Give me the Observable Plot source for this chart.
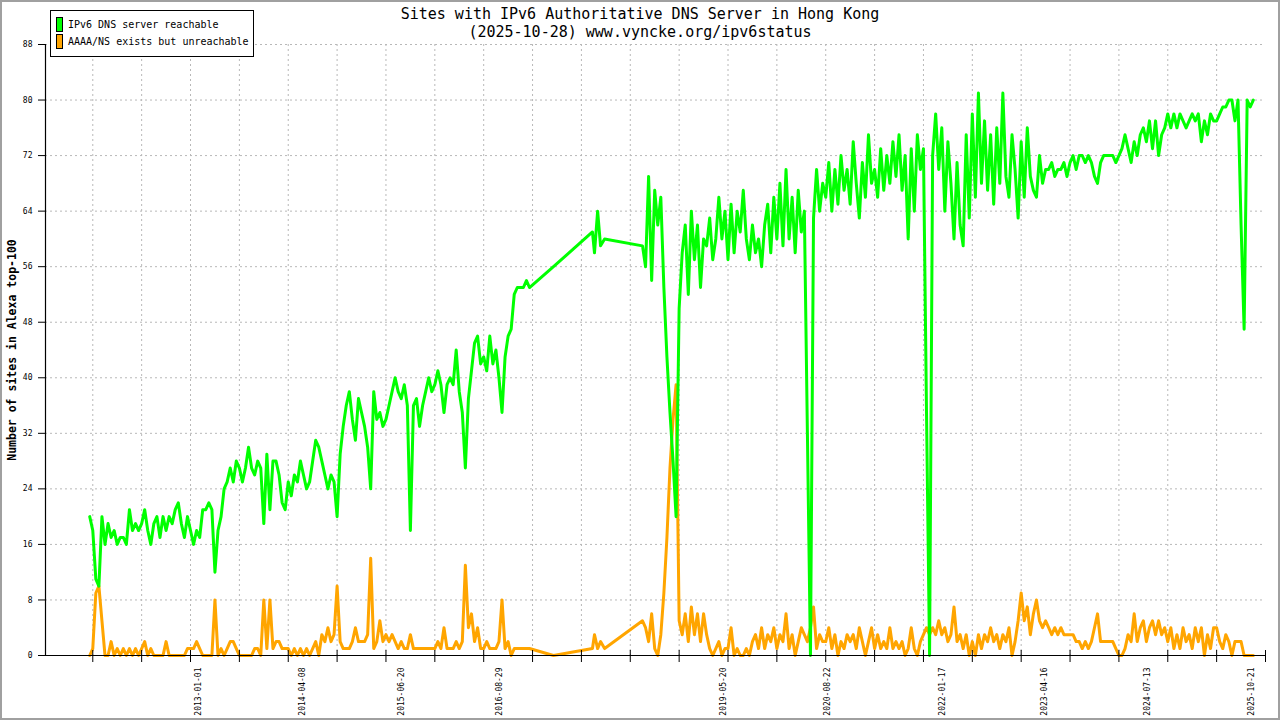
<!DOCTYPE html>
<html>
<head>
<meta charset="utf-8">
<script src="https://cdn.jsdelivr.net/npm/d3@7"></script>
<script src="https://cdn.jsdelivr.net/npm/@observablehq/plot@0.6"></script>
<style>
  body { margin: 0; background: #fff; }
  #wrap { position: relative; width: 1280px; height: 720px; overflow: hidden; font-family: "DejaVu Sans Mono", monospace; color: #000; }
  #frame { position: absolute; left: 0; top: 0; width: 1280px; height: 720px; border: 2px solid #a0a0a0; box-sizing: border-box; pointer-events: none; }
  #title { position: absolute; left: 0; top: 5px; width: 1280px; text-align: center; font-size: 15px; line-height: 18px; }
  #legend { position: absolute; left: 50px; top: 10px; width: 202px; height: 45px; border: 1px solid #000; background: #fff; font-size: 10px; }
  .item { position: absolute; left: 5px; height: 15px; line-height: 15px; white-space: nowrap; }
  .sw { display: inline-block; width: 5px; height: 13px; border: 1px solid #000; vertical-align: top; margin-right: 5px; }
  #ylabel { position: absolute; left: 12px; top: 350px; transform: translate(-50%, -50%) rotate(-90deg); font-weight: bold; font-size: 11.5px; white-space: nowrap; }
</style>
</head>
<body>
<div id="wrap">
  <div id="chart"></div>
  <div id="title"></div>
  <div id="legend"></div>
  <div id="ylabel"></div>
  <div id="frame"></div>
</div>
<script>
const titleLines = ['Sites with IPv6 Authoritative DNS Server in Hong Kong', '(2025-10-28) www.vyncke.org/ipv6status']
const yLabel = 'Number of sites in Alexa top-100'
const seriesNames = ['IPv6 DNS server reachable', 'AAAA/NS exists but unreachable']
const seriesColors = ['#00ff00', '#ffa500']

const yTicks = [0, 8, 16, 24, 32, 40, 48, 56, 64, 72, 80, 88]
const xDomain = ['2011-02-20', '2025-12-21']
const tickStart = '2011-09-18'
const tickStepDays = 217
const tickCount = 25
const labelDates = ['2013-01-01', '2014-04-08', '2015-06-20', '2016-08-29', '2019-05-20',
  '2020-08-22', '2022-01-17', '2023-04-16', '2024-07-13', '2025-10-21']

// samples every 217/16 days, first one a step before tickStart
const sampleStepDays = tickStepDays / 16

// 2011-09 .. 2016-10
const reachableEarly = [20,
  18,11,10,20,16,19,17,18,16,17,17,16,21,18,19,18,
  19,21,18,16,19,20,17,20,18,20,19,21,22,19,17,20,
  18,16,18,17,21,21,22,21,12,18,20,24,25,27,25,28,
  27,25,27,30,27,26,28,27,19,29,21,28,28,26,22,21,
  25,23,26,25,28,26,24,25,28,31,30,28,26,24,26,25,
  20,29,33,36,38,34,31,37,35,33,30,24,38,34,35,33,
  34,36,38,40,38,37,39,36,18,36,37,33,36,38,40,38,
  39,41,39,35,39,40,39,44,38,35,27,37,41,45,46,42,
  43,41,46,42,44,40,35,43,46,47,52,53,53,53,54,53]
const unreachableEarly = [0,
  1,9,10,5,0,0,2,0,1,0,1,0,1,0,1,0,
  1,2,0,1,0,0,0,0,2,0,0,0,0,0,0,1,
  1,1,2,1,0,0,0,0,8,0,1,0,1,2,2,1,
  0,0,0,0,0,1,1,0,8,1,8,1,2,2,1,1,
  1,0,1,0,1,0,1,0,1,2,0,3,2,4,2,3,
  10,2,1,1,1,2,4,2,2,2,3,14,1,2,5,2,
  3,2,3,2,1,2,1,1,3,1,1,1,1,1,1,1,
  1,2,1,4,1,1,1,2,1,2,13,4,6,2,4,1,
  1,2,1,1,1,2,8,1,2,0,1,1,1,1,1,1]

// sparse measurements 2017
const gapDates = ['2017-04-25', '2017-10-15', '2017-10-24', '2017-11-07', '2017-11-20', '2017-12-08']
const reachableGap = [56, 61, 58, 64, 59, 60]
const unreachableGap = [0, 1, 3, 1, 2, 1]

// 2018-05 .. 2025-10, continues the sample grid at this index
const lateStartIndex = 181
const reachableLate = [59,56,69,54,67,62,66,53,43,35,28,20,
  50,58,62,52,64,57,62,53,60,59,63,57,60,66,60,64,
  57,65,58,64,61,67,60,57,62,58,60,56,62,65,58,66,
  60,68,59,70,60,66,58,67,61,64,32,0,63,70,64,68,
  66,71,64,70,65,72,67,70,65,74,68,63,71,66,75,68,
  70,66,73,67,72,68,74,69,75,67,72,60,73,64,75,70,
  73,35,0,72,78,70,76,64,74,68,60,71,62,59,75,63,
  78,66,81,68,77,67,75,65,76,68,81,69,66,75,70,63,
  74,66,76,69,67,66,72,68,70,70,71,69,70,70,71,69,
  71,72,70,72,72,71,72,71,69,68,71,72,72,72,72,71,
  72,73,75,73,71,74,72,75,76,74,77,73,77,72,75,76,
  78,76,78,76,78,77,76,77,78,77,78,74,77,75,78,77,
  77,78,79,79,80,80,77,80,62,47,80,79,80]
const unreachableLate = [5,4,2,6,1,0,3,9,17,27,34,39,
  5,3,6,2,7,3,6,2,6,3,1,0,1,2,0,1,
  1,4,0,1,0,0,1,0,2,3,1,4,1,3,2,4,
  1,3,2,6,1,3,0,2,4,3,2,4,7,1,3,2,
  2,4,1,3,0,2,1,3,2,3,1,4,2,0,2,4,
  1,3,1,2,1,4,1,2,1,2,0,1,4,1,0,2,
  3,4,3,4,3,5,3,4,2,3,7,2,3,1,3,0,
  2,0,3,1,3,2,4,2,3,1,3,2,4,0,2,5,
  9,5,7,3,6,8,5,4,5,4,3,4,3,4,3,3,
  3,3,2,2,1,2,1,2,4,6,2,2,2,2,2,1,
  0,0,1,3,2,6,2,4,5,2,4,5,3,5,3,4,
  2,4,1,3,1,4,2,3,1,4,2,4,0,3,1,4,
  4,2,1,3,2,0,2,2,2,0,0,0,0]

const DAY = 864e5
const t0 = new Date(tickStart)
const sampleDate = i => new Date(+t0 + (i - 1) * sampleStepDays * DAY)
const xTicks = d3.range(tickCount).map(k => d3.utcDay.offset(t0, k * tickStepDays))

const rows = []
reachableEarly.forEach((v, i) => rows.push({date: sampleDate(i), reachable: v, unreachable: unreachableEarly[i]}))
gapDates.forEach((d, i) => rows.push({date: new Date(d), reachable: reachableGap[i], unreachable: unreachableGap[i]}))
reachableLate.forEach((v, i) => rows.push({date: sampleDate(lateStartIndex + i), reachable: v, unreachable: unreachableLate[i]}))

const gridStyle = {stroke: '#b8b8b8', strokeOpacity: 1, strokeDasharray: '2,3'}

const chart = Plot.plot({
  width: 1280,
  height: 720,
  marginLeft: 45,
  marginRight: 15,
  marginTop: 44,
  marginBottom: 65,
  style: {fontFamily: '"DejaVu Sans Mono", monospace', fontSize: '8px', background: 'transparent', color: '#000'},
  x: {type: 'utc', domain: xDomain.map(d => new Date(d))},
  y: {domain: [0, 88]},
  marks: [
    Plot.gridY(yTicks, gridStyle),
    Plot.gridX(xTicks.slice(0, -1), gridStyle),
    Plot.line(rows, {x: 'date', y: 'unreachable', stroke: seriesColors[1], strokeWidth: 3}),
    Plot.line(rows, {x: 'date', y: 'reachable', stroke: seriesColors[0], strokeWidth: 3}),
    Plot.axisY({ticks: yTicks, tickSize: 7, tickPadding: 6, label: null, fontSize: 8}),
    Plot.axisX({ticks: xTicks, tickSize: 12, dy: -5, tickFormat: () => '', label: null}),
    Plot.ruleX([new Date(xDomain[0])], {stroke: '#000', strokeWidth: 1.2}),
    Plot.ruleY([0], {stroke: '#000', strokeWidth: 1.2}),
    Plot.text(labelDates, {x: d => new Date(d), y: 0, text: d => d, rotate: -90, textAnchor: 'end', dy: 12, fontSize: 8})
  ]
})

d3.select('#chart').append(() => chart)

d3.select('#title').html(titleLines.join('<br>'))
d3.select('#ylabel').text(yLabel)

const legend = d3.select('#legend')
seriesNames.forEach((name, i) => {
  const item = legend.append('div').attr('class', 'item').style('top', (6 + i * 17) + 'px')
  item.append('span').attr('class', 'sw').style('background', seriesColors[i])
  item.append('span').text(name)
})
</script>
</body>
</html>
